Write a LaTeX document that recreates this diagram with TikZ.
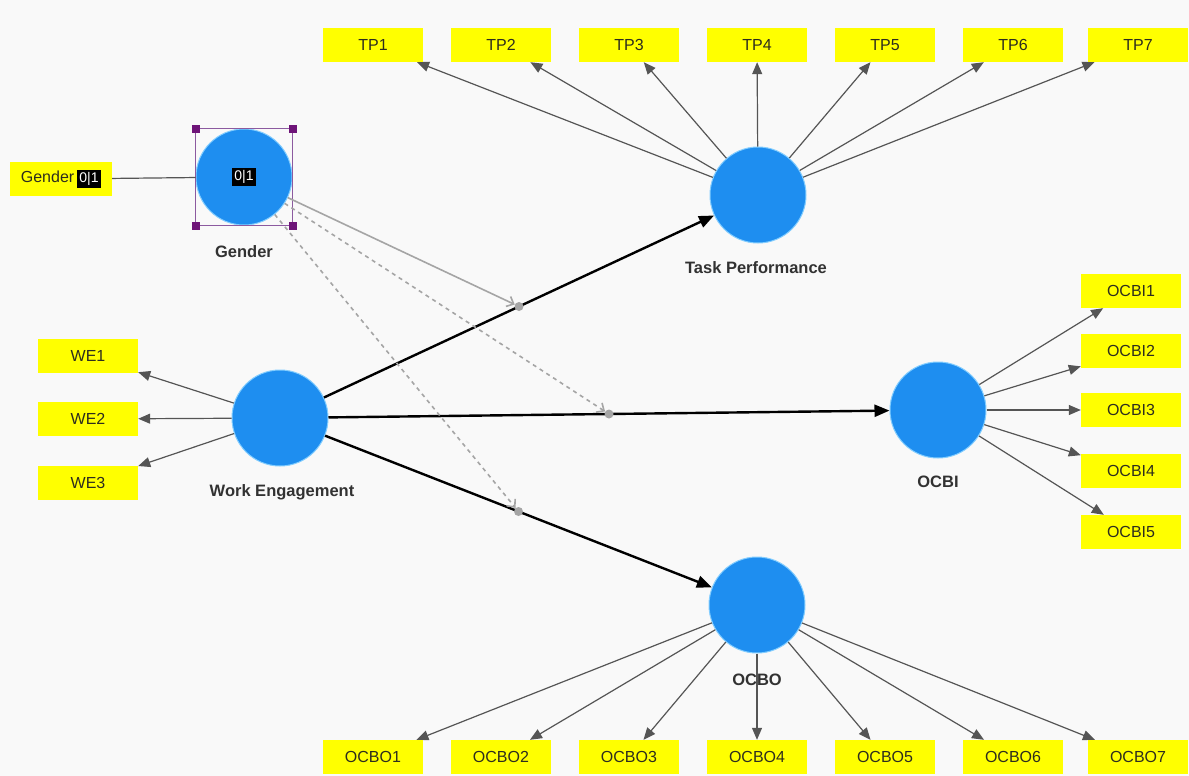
\documentclass[tikz,border=0pt]{standalone}
\usepackage{fontspec}
\setmainfont{Liberation Sans}
\usetikzlibrary{arrows.meta,calc}
\definecolor{canvas}{RGB}{249,249,249}
\definecolor{latentblue}{RGB}{30,142,240}
\definecolor{latentedge}{RGB}{130,205,255}
\definecolor{boxyellow}{RGB}{255,255,0}
\definecolor{boxtext}{RGB}{45,45,30}
\definecolor{labelgrey}{RGB}{50,50,50}
\definecolor{loadgrey}{RGB}{85,85,85}
\definecolor{modgrey}{RGB}{165,165,165}
\definecolor{selpurple}{RGB}{140,90,160}
\definecolor{selcorner}{RGB}{110,20,120}
\newcommand{\binflag}{{\setlength{\fboxsep}{2.5pt}\colorbox{black}{\textcolor{white}{\fontsize{14}{16}\selectfont 0|1}}}}
\tikzset{
  latent/.style={circle, fill=latentblue, draw=latentedge, line width=1pt, minimum size=96pt, inner sep=0pt},
  latlabel/.style={font=\fontsize{16.5}{18}\selectfont\bfseries, text=labelgrey},
  indbox/.style={rectangle, fill=boxyellow, minimum width=100pt, minimum height=34pt, inner sep=2pt, font=\fontsize{16}{18}\selectfont, text=boxtext},
  loading/.style={draw=loadgrey, line width=1.2pt, -{Triangle[length=12pt,width=10pt]}},
  structural/.style={draw=black, line width=2.4pt, -{Triangle[length=15pt,width=12pt]}},
  modline/.style={draw=modgrey, line width=1.6pt, -{Straight Barb[length=6pt,width=11pt]}},
  moddot/.style={circle, fill=modgrey, inner sep=0pt, minimum size=9pt},
  selmark/.style={rectangle, fill=selcorner, minimum size=8pt, inner sep=0pt}
}
\begin{document}
\begin{tikzpicture}[x=1pt, y=-1pt]
			%%%%% CANVAS %%%%%
			\useasboundingbox (0, 0) rectangle (1189, 776);
			\fill[canvas] (0, 0) rectangle (1189, 776);
			
			%%%%% LATENT VARIABLES %%%%%
			\node[latent] (gen) at (244, 177) {\binflag};
			\node[latlabel] (genlab) at (244, 252) {Gender};
			\node[latent] (we) at (280, 418) {};
			\node[latlabel] (welab) at (282, 492) {Work Engagement};
			\node[latent] (tp) at (758, 195) {};
			\node[latlabel] (tplab) at (756, 268) {Task Performance};
			\node[latent] (ocbi) at (938, 410) {};
			\node[latlabel] (ocbilab) at (938, 482) {OCBI};
			\node[latent] (ocbo) at (757, 605) {};
			\node[latlabel] (ocbolab) at (757, 680) {OCBO};
			
			% selection frame round Gender
			\draw[selpurple, line width=1.2pt] (gen.west |- gen.north) rectangle (gen.east |- gen.south);
			\node[selmark] (sel1) at (gen.west |- gen.north) {};
			\node[selmark] (sel2) at (gen.east |- gen.north) {};
			\node[selmark] (sel3) at (gen.west |- gen.south) {};
			\node[selmark] (sel4) at (gen.east |- gen.south) {};
			
			%%%%% INDICATORS %%%%%
			\node[indbox, minimum width=102pt] (gen1) at (61, 179) {Gender\,\binflag};
			
			\node[indbox] (we1) at (88, 356) {WE1};
			\node[indbox] (we2) at (88, 419) {WE2};
			\node[indbox] (we3) at (88, 483) {WE3};
			
			\node[indbox] (tp1) at (373, 45) {TP1};
			\node[indbox] (tp2) at (501, 45) {TP2};
			\node[indbox] (tp3) at (629, 45) {TP3};
			\node[indbox] (tp4) at (757, 45) {TP4};
			\node[indbox] (tp5) at (885, 45) {TP5};
			\node[indbox] (tp6) at (1013, 45) {TP6};
			\node[indbox] (tp7) at (1138, 45) {TP7};
			
			\node[indbox] (ocbi1) at (1131, 291) {OCBI1};
			\node[indbox] (ocbi2) at (1131, 351) {OCBI2};
			\node[indbox] (ocbi3) at (1131, 410) {OCBI3};
			\node[indbox] (ocbi4) at (1131, 471) {OCBI4};
			\node[indbox] (ocbi5) at (1131, 532) {OCBI5};
			
			\node[indbox] (ocbo1) at (373, 757) {OCBO1};
			\node[indbox] (ocbo2) at (501, 757) {OCBO2};
			\node[indbox] (ocbo3) at (629, 757) {OCBO3};
			\node[indbox] (ocbo4) at (757, 757) {OCBO4};
			\node[indbox] (ocbo5) at (885, 757) {OCBO5};
			\node[indbox] (ocbo6) at (1013, 757) {OCBO6};
			\node[indbox] (ocbo7) at (1138, 757) {OCBO7};
			
			%%%%% LOADINGS %%%%%
			\draw[draw=loadgrey, line width=1.2pt] (gen1) -- (gen);
			
			\draw[loading] (we) -- (we1);
			\draw[loading] (we) -- (we2);
			\draw[loading] (we) -- (we3);
			
			\draw[loading] (tp) -- (tp1);
			\draw[loading] (tp) -- (tp2);
			\draw[loading] (tp) -- (tp3);
			\draw[loading] (tp) -- (tp4);
			\draw[loading] (tp) -- (tp5);
			\draw[loading] (tp) -- (tp6);
			\draw[loading] (tp) -- (tp7);
			
			\draw[loading] (ocbi) -- (ocbi1);
			\draw[loading] (ocbi) -- (ocbi2);
			\draw[loading] (ocbi) -- (ocbi3);
			\draw[loading] (ocbi) -- (ocbi4);
			\draw[loading] (ocbi) -- (ocbi5);
			
			\draw[loading] (ocbo) -- (ocbo1);
			\draw[loading] (ocbo) -- (ocbo2);
			\draw[loading] (ocbo) -- (ocbo3);
			\draw[loading] (ocbo) -- (ocbo4);
			\draw[loading] (ocbo) -- (ocbo5);
			\draw[loading] (ocbo) -- (ocbo6);
			\draw[loading] (ocbo) -- (ocbo7);
			
			%%%%% STRUCTURAL PATHS %%%%%
			\draw[structural] (we) -- (tp);
			\draw[structural] (we) -- (ocbi);
			\draw[structural] (we) -- (ocbo);
			
			%%%%% MODERATING EFFECTS %%%%%
			\node[moddot] (mtp) at ($(we)!0.5!(tp)$) {};
			\node[moddot] (mocbi) at ($(we)!0.5!(ocbi)$) {};
			\node[moddot] (mocbo) at ($(we)!0.5!(ocbo)$) {};
			
			\draw[modline] (gen) -- (mtp);
			\draw[modline, dash pattern=on 4pt off 4pt] (gen) -- (mocbi);
			\draw[modline, dash pattern=on 4pt off 4pt] (gen) -- (mocbo);
			
		\end{tikzpicture}
\end{document}
